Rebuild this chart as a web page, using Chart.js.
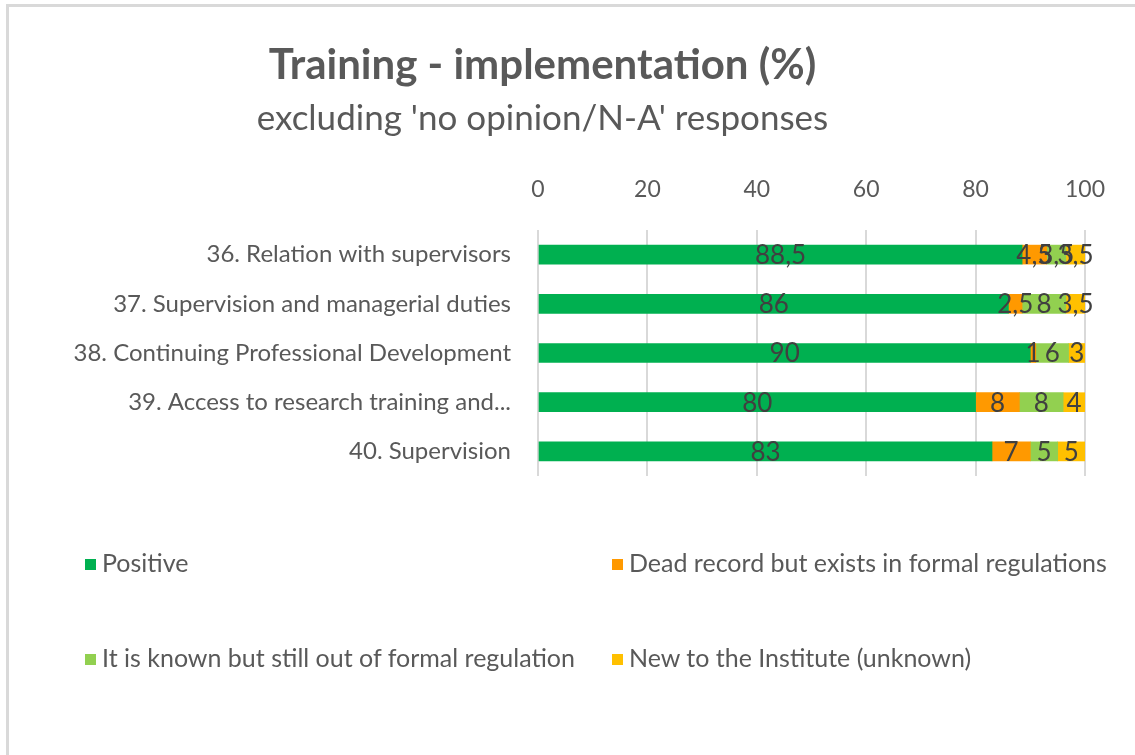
<!DOCTYPE html>
<html>
<head>
<meta charset="utf-8">
<script src="https://cdn.jsdelivr.net/npm/chart.js@4"></script>
<style>
  html, body { margin: 0; padding: 0; background: #fff; overflow: hidden; }
  #frame {
    position: absolute; left: 6px; top: 4px; width: 1200px; height: 800px;
    border-left: 3px solid #d9d9d9; border-top: 3px solid #d9d9d9;
  }
  #myChart { position: absolute; left: 0; top: 0; }
  #legend { position: absolute; left: 0; top: 0; font-family: Lato, sans-serif; font-size: 25px; color: #595959; }
  .item { position: absolute; white-space: nowrap; line-height: 30px; }
  .box { display: inline-block; width: 11px; height: 11px; margin-right: 6px; vertical-align: 2px; }
</style>
</head>
<body>
<div id="frame"></div>
<canvas id="myChart" width="1135" height="755"></canvas>
<div id="legend"></div>
<script>
const categories = [
    "36. Relation with supervisors",
    "37. Supervision and managerial duties",
    "38. Continuing Professional Development",
    "39. Access to research training and...",
    "40. Supervision"
];
const seriesNames = [
    "Positive",
    "Dead record but exists in formal regulations",
    "It is known but still out of formal regulation",
    "New to the Institute (unknown)"
];
const positive = [88.5, 86, 90, 80, 83];
const deadRecord = [4.5, 2.5, 1, 8, 7];
const knownOutside = [3.5, 8, 6, 8, 5];
const newToInstitute = [3.5, 3.5, 3, 4, 5];
const xTicks = [0, 20, 40, 60, 80, 100];

const colors = ['#00b050', '#ff9900', '#92d050', '#ffc000'];
const allSeries = [positive, deadRecord, knownOutside, newToInstitute];

// value labels in the middle of each segment, decimal comma
const barLabels = {
    id: 'barLabels',
    afterDatasetsDraw(chart) {
        const ctx = chart.ctx;
        ctx.save();
        ctx.font = '26px Lato, sans-serif';
        ctx.fillStyle = '#404040';
        ctx.textAlign = 'center';
        ctx.textBaseline = 'middle';
        chart.data.datasets.forEach((ds, i) => {
            const meta = chart.getDatasetMeta(i);
            meta.data.forEach((bar, j) => {
                const txt = String(ds.data[j]).replace('.', ',');
                ctx.fillText(txt, (bar.x + bar.base) / 2, bar.y + 1);
            });
        });
        ctx.restore();
    }
};

const data = {
    labels: categories,
    datasets: allSeries.map((vals, i) => ({
        label: seriesNames[i],
        data: vals,
        backgroundColor: colors[i],
        borderWidth: 0,
        barThickness: 19
    }))
};

const chart = new Chart(document.getElementById("myChart"), {
    type: 'bar',
    data: data,
    plugins: [barLabels],
    options: {
        indexAxis: 'y',
        responsive: false,
        animation: false,
        layout: { padding: { left: 0, right: 50, top: 0, bottom: 279 } },
        plugins: {
            legend: { display: false },
            tooltip: { enabled: false },
            title: {
                display: true,
                text: 'Training - implementation (%)',
                color: '#595959',
                font: { family: 'Lato, sans-serif', size: 42, weight: 'bold', lineHeight: 1.2 },
                padding: { top: 40, bottom: 0 }
            },
            subtitle: {
                display: true,
                text: "excluding 'no opinion/N-A' responses",
                color: '#595959',
                font: { family: 'Lato, sans-serif', size: 35, lineHeight: 1.2 },
                padding: { top: 7, bottom: 9 }
            }
        },
        scales: {
            x: {
                position: 'top',
                stacked: true,
                min: 0,
                max: 100,
                afterBuildTicks: (scale) => { scale.ticks = xTicks.map(v => ({ value: v })); },
                ticks: {
                    color: '#595959',
                    font: { family: 'Lato, sans-serif', size: 23 },
                    padding: 27
                },
                grid: { color: '#d9d9d9', lineWidth: 2, drawTicks: false },
                border: { display: false }
            },
            y: {
                stacked: true,
                afterFit: (scale) => { scale.width = 538; },
                ticks: {
                    color: '#595959',
                    font: { family: 'Lato, sans-serif', size: 24 },
                    padding: 27
                },
                grid: { display: false, drawTicks: false },
                border: { display: false }
            }
        }
    }
});

// legend in two columns, built from the chart's datasets
const legendPos = [[85, 562], [612, 562], [85, 657], [612, 657]];
const legend = document.getElementById('legend');
chart.data.datasets.forEach((ds, i) => {
    const el = document.createElement('div');
    el.className = 'item';
    el.style.left = legendPos[i][0] + 'px';
    el.style.top = (legendPos[i][1] - 15) + 'px';
    el.innerHTML = '<span class="box" style="background:' + ds.backgroundColor + '"></span>' + ds.label;
    legend.appendChild(el);
});
</script>
</body>
</html>
